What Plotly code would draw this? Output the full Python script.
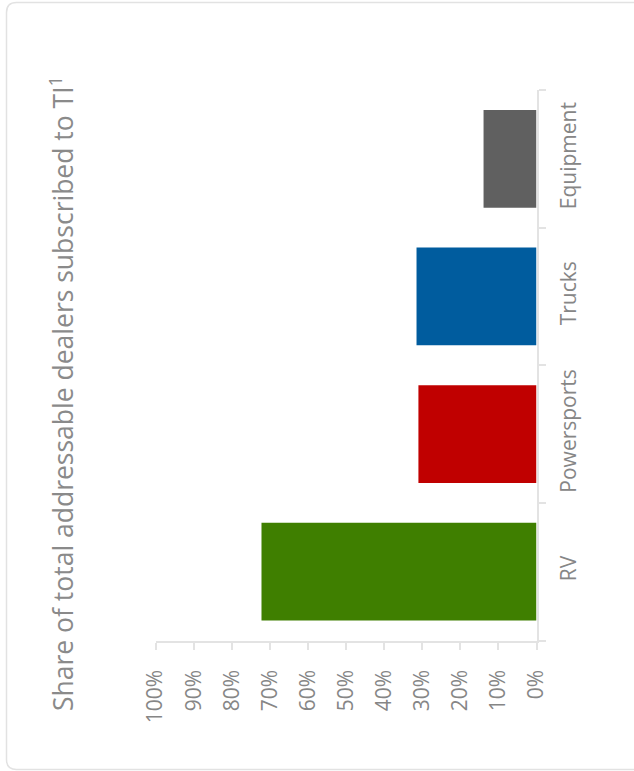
import plotly.graph_objects as go

# Data
categories = ["RV", "Powersports", "Trucks", "Equipment"]
share_pct = [72.2, 31.0, 31.5, 13.9]
bar_colors = ["#3f7f00", "#c00000", "#005c9e", "#606060"]
tick_vals = [0, 10, 20, 30, 40, 50, 60, 70, 80, 90, 100]
tick_text = [f"{v}%" for v in tick_vals]
title_text = "Share of total addressable dealers subscribed to TI<sup>1</sup>"

W, H = 634, 771
FONT = "Open Sans"
GRID = "#e3e3e3"
TXT = "#868686"


def px(x):
    return x / W


def py(y):
    return 1 - y / H


fig = go.Figure(
    go.Bar(
        x=share_pct,
        y=categories,
        orientation="h",
        marker=dict(color=bar_colors, line=dict(width=0)),
        width=0.71,
        hoverinfo="skip",
    )
)

# rounded card outline (right side runs off the page)
L, T, R, B, r = 6.5, 2.5, 645, 769.5, 10
card = (
    f"M {px(L + r)} {py(T)} L {px(R)} {py(T)} L {px(R)} {py(B)} "
    f"L {px(L + r)} {py(B)} Q {px(L)} {py(B)} {px(L)} {py(B - r)} "
    f"L {px(L)} {py(T + r)} Q {px(L)} {py(T)} {px(L + r)} {py(T)} Z"
)

fig.update_layout(
    template="none",
    width=W,
    height=H,
    margin=dict(l=0, r=0, t=0, b=0, pad=0, autoexpand=False),
    paper_bgcolor="white",
    plot_bgcolor="white",
    showlegend=False,
    font=dict(family=FONT, color=TXT),
    xaxis=dict(
        domain=[px(155.6), px(536.5)],
        range=[100, 0],
        automargin=False,
        tickvals=tick_vals,
        ticktext=tick_text,
        tickangle=-90,
        tickfont=dict(size=21, color=TXT),
        ticks="outside",
        ticklen=7,
        tickwidth=2,
        tickcolor=GRID,
        ticklabelstandoff=12,
        showline=True,
        linecolor=GRID,
        linewidth=2,
        showgrid=False,
        zeroline=False,
        fixedrange=True,
    ),
    yaxis=dict(
        domain=[py(640.5), py(90)],
        side="right",
        automargin=False,
        categoryorder="array",
        categoryarray=categories,
        range=[-0.5, 3.5],
        tickangle=-90,
        tickfont=dict(size=21, color=TXT),
        ticks="outside",
        tickson="boundaries",
        ticklen=7,
        tickwidth=2,
        tickcolor=GRID,
        showline=True,
        linecolor=GRID,
        linewidth=2,
        showgrid=False,
        zeroline=False,
        ticklabelstandoff=12,
        fixedrange=True,
    ),
    shapes=[
        dict(
            type="path",
            xref="paper",
            yref="paper",
            path=card,
            line=dict(color="#e2e2e2", width=1.5),
            fillcolor="rgba(0,0,0,0)",
            layer="below",
        )
    ],
    annotations=[
        dict(
            text=title_text,
            xref="paper",
            yref="paper",
            x=px(62),
            y=py(394),
            xanchor="center",
            yanchor="middle",
            textangle=-90,
            showarrow=False,
            font=dict(family=FONT, size=26.5, color="#8a8a8a"),
        )
    ],
)

fig.write_html(
    "out.html",
    config={"displayModeBar": False},
    post_script=(
        "document.body.style.margin='0';"
        "document.documentElement.style.overflow='hidden';"
    ),
)
